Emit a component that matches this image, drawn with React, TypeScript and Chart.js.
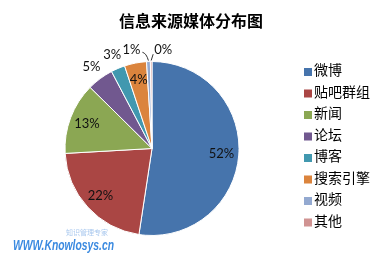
import React, { useEffect, useRef } from "react";
import { Chart, registerables } from "chart.js";

Chart.register(...registerables);

const title = "信息来源媒体分布图";
const categories = ["微博", "贴吧群组", "新闻", "论坛", "博客", "搜索引擎", "视频", "其他"];
const shares = [52.4, 21.7, 13.3, 4.9, 2.6, 4.1, 0.7, 0.3];
const colors = ["#4674AC", "#AA4644", "#8BA753", "#71588F", "#4198AF", "#DB843D", "#93A9D0", "#D09392"];
// label placement: 0 = inside, 2 = outside, -1/1 = outside with leader line to left/right
const labelPlacement = [0, 0, 0, 2, 2, 0, -1, 1];
const watermark = "WWW.Knowlosys.cn";
const watermarkSub = "知识管理专家";

const overlay = {
  id: "overlay",
  afterDatasetsDraw(chart: any) {
    const ctx = chart.ctx;
    const meta = chart.getDatasetMeta(0);
    ctx.save();
    // data labels
    ctx.font = "13px Lato";
    ctx.fillStyle = "#111";
    ctx.textBaseline = "middle";
    meta.data.forEach((arc: any, i: number) => {
      const { x, y, startAngle, endAngle, outerRadius } = arc.getProps(
        ["x", "y", "startAngle", "endAngle", "outerRadius"],
        true
      );
      const mid = (startAngle + endAngle) / 2;
      const cos = Math.cos(mid);
      const sin = Math.sin(mid);
      const text = Math.round(shares[i]) + "%";
      const p = labelPlacement[i];
      if (p === 0) {
        const r = outerRadius * 0.8;
        ctx.textAlign = "center";
        ctx.fillText(text, x + cos * r, y + sin * r);
      } else if (p === 2) {
        const r = outerRadius * 1.17;
        ctx.textAlign = "center";
        ctx.fillText(text, x + cos * r, y + sin * r);
      } else {
        const ex = x + cos * (outerRadius + 1);
        const ey = y + sin * (outerRadius + 1);
        const ly = y + sin * outerRadius * 1.13;
        ctx.strokeStyle = "#333";
        ctx.lineWidth = 1;
        ctx.beginPath();
        if (p < 0) {
          ctx.textAlign = "right";
          ctx.fillText(text, ex - 8, ly);
          ctx.moveTo(ex - 6, ly + 2);
          ctx.quadraticCurveTo(ex - 2, ly + 3, ex, ey);
        } else {
          ctx.textAlign = "left";
          ctx.fillText(text, ex + 3, ly);
          ctx.moveTo(ex + 2, ly + 4);
          ctx.lineTo(ex, ey);
        }
        ctx.stroke();
      }
    });

    // title
    ctx.fillStyle = "#000";
    ctx.textAlign = "center";
    ctx.textBaseline = "middle";
    ctx.font = "bold 16px 'Noto Sans CJK SC'";
    ctx.fillText(title, 191, 21);

    // legend
    ctx.textAlign = "left";
    ctx.font = "14px 'Noto Sans CJK SC'";
    categories.forEach((c, i) => {
      const cy = 70 + i * 21.5;
      ctx.fillStyle = colors[i];
      ctx.fillRect(304, cy - 2, 8, 8);
      ctx.fillStyle = "#000";
      ctx.fillText(c, 314, cy);
    });

    // watermark
    ctx.font = "7px 'Noto Sans CJK SC'";
    ctx.fillStyle = "#a9c8ee";
    ctx.fillText(watermarkSub, 66, 232);
    ctx.font = "italic bold 14px 'Liberation Sans'";
    ctx.fillStyle = "#3b8ae0";
    ctx.textBaseline = "alphabetic";
    const w = ctx.measureText(watermark).width;
    ctx.translate(13, 250);
    ctx.scale(101 / w, 1);
    ctx.fillText(watermark, 0, 0);
    ctx.restore();
  },
};

export default function App() {
  const ref = useRef<HTMLCanvasElement>(null);
  useEffect(() => {
    if (!ref.current) return;
    const chart = new Chart(ref.current, {
      type: "pie",
      data: {
        labels: categories,
        datasets: [
          {
            data: shares,
            backgroundColor: colors,
            borderColor: "#ffffff",
            borderWidth: 1,
          },
        ],
      },
      options: {
        responsive: false,
        animation: false,
        devicePixelRatio: 1,
        layout: { padding: { left: 64, right: 144, top: 61, bottom: 24 } },
        plugins: {
          legend: { display: false },
          tooltip: { enabled: false },
          title: { display: false },
        },
      },
      plugins: [overlay],
    });
    return () => chart.destroy();
  }, []);
  return (
    <div style={{ position: "absolute", left: 0, top: 0, width: 384, height: 260, background: "#fff" }}>
      <canvas ref={ref} width={384} height={260} />
    </div>
  );
}
